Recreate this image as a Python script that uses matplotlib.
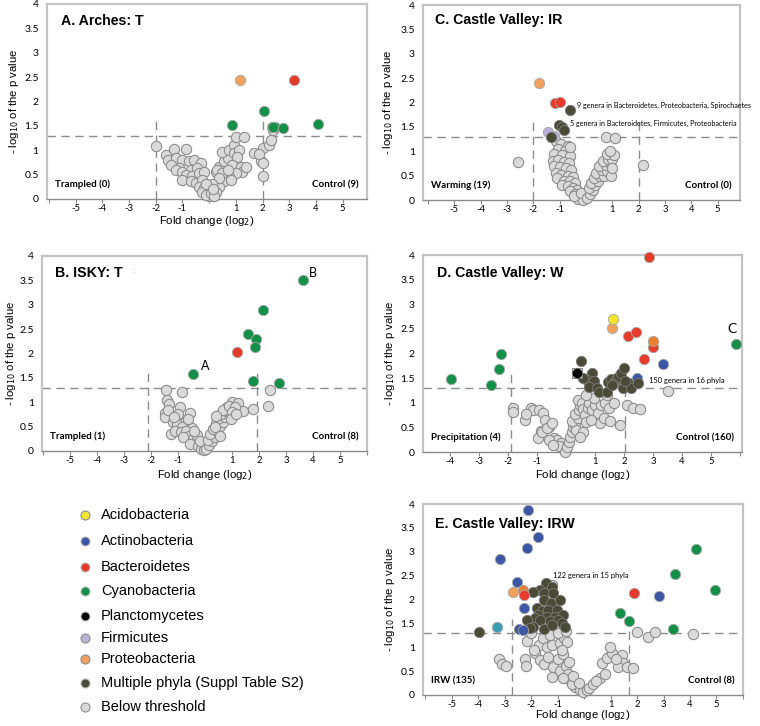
"""Volcano plots of differentially abundant genera (panels A-E)."""
import matplotlib
matplotlib.use('Agg')
import matplotlib.pyplot as plt
from matplotlib.lines import Line2D

plt.rcParams['font.family'] = ['Liberation Sans', 'DejaVu Sans']

COLORS = {
    'Acidobacteria': '#f2e52c',
    'Actinobacteria': '#3b57a6',
    'Bacteroidetes': '#e63a2a',
    'Cyanobacteria': '#139048',
    'Planctomycetes': '#000000',
    'Firmicutes': '#b9b2d6',
    'Proteobacteria': '#f3a05d',
    'Proteobacteria2': '#e8802f',
    'Multiple': '#4b4a36',
    'Teal': '#3a9db2',
    'Below': '#dadada',
}
LEGEND_NAMES = ['Acidobacteria', 'Actinobacteria', 'Bacteroidetes', 'Cyanobacteria',
                'Planctomycetes', 'Firmicutes', 'Proteobacteria',
                'Multiple phyla (Suppl Table S2)', 'Below threshold']
LEGEND_KEYS = ['Acidobacteria', 'Actinobacteria', 'Bacteroidetes', 'Cyanobacteria',
               'Planctomycetes', 'Firmicutes', 'Proteobacteria', 'Multiple', 'Below']

# ---------------- Panel A: Arches T ----------------
A_grey = [(-2.0, 1.08), (-1.6, 0.9), (-1.31, 1.02), (-0.875, 1.02), (-1.53, 0.8), (-1.25, 0.84),
          (-1.0, 0.8), (-1.44, 0.7), (-1.13, 0.63), (-0.75, 0.77), (-0.56, 0.8), (-0.31, 0.73),
          (-1.25, 0.6), (-1.0, 0.56), (-0.69, 0.6), (-0.44, 0.63), (-0.875, 0.49), (-0.625, 0.46),
          (-0.375, 0.53), (-0.19, 0.56), (-1.0, 0.39), (-0.69, 0.36), (-0.5, 0.32), (-0.25, 0.39),
          (-0.375, 0.25), (-0.19, 0.22), (-0.06, 0.15), (0.0, 0.05), (-0.25, 0.15), (-0.125, 0.08),
          (0.06, 0.12), (0.25, 0.56), (0.375, 0.66), (0.56, 0.77), (0.69, 0.84), (0.5, 0.97),
          (0.75, 1.0), (0.94, 1.11), (1.0, 1.28), (1.31, 1.27), (0.94, 0.94), (1.125, 1.0),
          (1.06, 0.87), (0.875, 0.7), (1.19, 0.66), (1.25, 0.56), (1.0, 0.53), (0.75, 0.46),
          (0.56, 0.36), (0.375, 0.25), (0.25, 0.15), (0.19, 0.05), (0.31, 0.6), (0.5, 0.53),
          (0.69, 0.6), (0.81, 0.39), (1.375, 0.66), (0.375, 0.42), (1.69, 0.94), (2.0, 1.04),
          (2.25, 1.11), (2.31, 1.21), (2.375, 1.42), (1.94, 0.77), (2.0, 0.46), (1.875, 0.93),
          (2.0, 0.73), (0.1, 0.3), (-0.1, 0.3), (0.15, 0.2)]
A_col = {
    'Proteobacteria': [(1.15, 2.44)],
    'Bacteroidetes': [(3.19, 2.44)],
    'Cyanobacteria': [(0.85, 1.51), (2.06, 1.8), (2.35, 1.48), (2.45, 1.48), (2.75, 1.45),
                      (4.06, 1.53), (2.4, 1.47)],
}

# ---------------- Panel C: Castle Valley IR ----------------
C_grey = [(-1.15, 1.22), (-0.95, 1.15), (-0.7, 1.1), (-1.05, 1.05), (-0.8, 1.0), (-1.2, 0.95),
          (-0.9, 0.92), (-0.6, 0.9), (-1.25, 0.8), (-1.05, 0.82), (-0.85, 0.78), (-0.65, 0.75),
          (-1.2, 0.7), (-1.0, 0.68), (-0.75, 0.65), (-0.55, 0.62), (-1.15, 0.55), (-0.95, 0.52),
          (-0.7, 0.5), (-0.5, 0.48), (-1.1, 0.45), (-0.85, 0.4), (-0.6, 0.38), (-0.4, 0.35),
          (-0.9, 0.3), (-0.7, 0.28), (-0.5, 0.25), (-0.35, 0.2), (-0.6, 0.18), (-0.4, 0.12),
          (-0.25, 0.1), (-0.15, 0.05), (-0.3, 0.03), (-0.1, 0.0), (-0.45, 0.08), (-0.2, 0.15),
          (0.05, 0.05), (0.15, 0.12), (0.25, 0.2), (0.1, 0.25), (0.35, 0.3), (0.2, 0.35),
          (0.45, 0.4), (0.3, 0.45), (0.55, 0.5), (0.4, 0.55), (0.7, 0.5), (0.6, 0.62), (0.8, 0.6),
          (0.5, 0.7), (0.75, 0.72), (0.9, 0.75), (0.65, 0.8), (0.85, 0.85), (1.0, 0.85),
          (0.8, 0.95), (1.05, 0.92), (0.9, 1.0), (0.78, 1.3), (1.1, 1.27), (2.18, 0.71),
          (-2.57, 0.77), (0.95, 0.5), (1.0, 0.65), (-0.6, 1.08)]
C_col = {
    'Proteobacteria': [(-1.77, 2.41)],
    'Bacteroidetes': [(-1.18, 2.0), (-0.99, 2.02)],
    'Firmicutes': [(-1.43, 1.39), (-1.22, 1.32)],
    'Multiple': [(-0.61, 1.85), (-1.03, 1.53), (-0.92, 1.49), (-0.84, 1.44), (-1.33, 1.3)],
}

# ---------------- Panel B: ISKY T ----------------
B_grey = [(-1.44, 1.25), (-0.86, 1.21), (-1.42, 1.04), (-1.33, 0.97), (-0.93, 0.91), (-1.48, 0.77),
          (-1.5, 0.7), (-1.37, 0.85), (-0.56, 0.78), (-1.28, 0.34), (-0.94, 0.66), (-0.75, 0.59),
          (-0.5, 0.48), (-1.2, 0.6), (-1.05, 0.55), (-0.85, 0.5), (-1.1, 0.42), (-0.9, 0.38),
          (-0.7, 0.4), (-0.6, 0.3), (-0.8, 0.28), (-0.45, 0.25), (-0.35, 0.18), (-0.55, 0.15),
          (-0.25, 0.1), (-0.15, 0.05), (-0.05, 0.02), (-0.3, 0.32), (-0.4, 0.4), (-1.0, 0.75),
          (-1.15, 0.7), (-0.65, 0.65), (-0.2, 0.2), (0.05, 0.05), (0.15, 0.12), (0.25, 0.2),
          (0.1, 0.22), (0.35, 0.28), (0.2, 0.35), (0.45, 0.4), (0.3, 0.45), (0.55, 0.52),
          (0.4, 0.58), (0.65, 0.6), (0.5, 0.68), (0.75, 0.7), (0.6, 0.75), (0.85, 0.8), (0.7, 0.85),
          (0.99, 1.01), (1.23, 0.98), (0.8, 0.91), (0.68, 0.84), (1.41, 0.83), (1.78, 0.86),
          (2.33, 0.92), (2.42, 1.26), (0.9, 0.92), (1.1, 0.9), (1.0, 0.8), (0.95, 0.65),
          (1.15, 0.75), (0.4, 0.72), (0.35, 0.5), (0.55, 0.3)]
B_col = {
    'Bacteroidetes': [(1.17, 2.03)],
    'Cyanobacteria': [(-0.46, 1.58), (3.64, 3.5), (2.14, 2.89), (1.6, 2.41), (1.89, 2.29),
                      (1.84, 2.13), (1.79, 1.44), (2.75, 1.39)],
}

# ---------------- Panel D: Castle Valley W ----------------
D_grey = [(-1.84, 0.89), (-1.84, 0.82), (-1.41, 0.65), (-1.2, 0.89), (-1.13, 0.85), (-0.92, 0.86),
          (-1.39, 0.78), (-0.78, 0.8), (-0.71, 0.66), (-0.57, 0.5), (-0.86, 0.42), (-0.98, 0.29),
          (-0.84, 0.41), (-0.67, 0.48), (-0.49, 0.58), (-0.4, 0.28), (-0.32, 0.24), (-0.17, 0.19),
          (0.0, 0.04), (-0.6, 0.25), (-0.1, 0.1), (-0.25, 0.12), (-0.45, 0.15), (-0.05, 0.0),
          (0.05, 0.1), (0.1, 0.2), (0.15, 0.3), (0.2, 0.4), (0.25, 0.5), (0.3, 0.55), (0.35, 0.45),
          (0.22, 0.62), (0.4, 0.7), (0.32, 0.78), (0.45, 0.85), (0.5, 0.95), (0.42, 1.05),
          (0.55, 1.0), (0.6, 0.88), (0.65, 0.75), (0.7, 0.6), (0.75, 0.9), (0.8, 1.0), (0.9, 0.85),
          (1.0, 0.95), (1.1, 0.8), (1.17, 0.58), (1.3, 0.7), (1.2, 0.95), (1.35, 1.0), (1.52, 0.62),
          (1.5, 0.9), (1.65, 1.0), (1.86, 0.55), (2.09, 0.96), (2.32, 0.89), (2.55, 0.87),
          (3.53, 1.23), (0.6, 0.4), (0.5, 0.3), (0.85, 0.65), (0.95, 1.1), (1.4, 1.15), (0.7, 1.15)]
D_col = {
    'Cyanobacteria': [(-2.25, 2.0), (-2.3, 1.69), (-2.57, 1.36), (-3.98, 1.49), (5.86, 2.2)],
    'Multiple': [(0.51, 1.84), (0.89, 1.6), (0.72, 1.47), (0.95, 1.44), (0.78, 1.33), (1.06, 1.29),
                 (1.15, 1.22), (1.4, 1.22), (1.46, 1.43), (1.57, 1.48), (1.69, 1.45), (1.8, 1.52),
                 (1.89, 1.61), (2.0, 1.7), (1.62, 1.39), (1.97, 1.29), (2.17, 1.41), (2.23, 1.29),
                 (2.05, 1.45), (1.58, 1.36), (0.6, 1.5)],
    'Actinobacteria': [(2.44, 1.5), (3.33, 1.79)],
    'Multiple_top': [(2.5, 1.41)],
    'Bacteroidetes': [(2.87, 3.97), (2.15, 2.36), (2.4, 2.43), (2.99, 2.13), (2.69, 1.89)],
    'Proteobacteria': [(1.6, 2.52)],
    'Proteobacteria2': [(2.99, 2.26)],
    'Acidobacteria': [(1.63, 2.71)],
}
D_plancto = [(0.38, 1.61)]

# ---------------- Panel E: Castle Valley IRW ----------------
E_grey = [(-3.21, 0.75), (-3.11, 0.65), (-2.94, 0.61), (-2.16, 1.14), (-2.23, 0.75), (-2.2, 0.6),
          (-1.85, 0.87), (-1.7, 1.05), (-1.55, 1.2), (-1.41, 1.01), (-1.22, 1.05), (-0.91, 1.08),
          (-0.75, 1.2), (-0.65, 1.1), (-1.66, 0.73), (-1.5, 0.65), (-1.35, 0.8), (-1.16, 0.59),
          (-1.0, 0.75), (-0.8, 0.85), (-0.91, 0.51), (-1.22, 0.38), (-0.7, 0.6), (-0.6, 0.45),
          (-0.53, 0.31), (-0.8, 0.35), (-0.34, 0.17), (-0.45, 0.22), (-0.15, 0.1), (-0.03, 0.07),
          (0.1, 0.1), (0.2, 0.15), (0.35, 0.24), (0.6, 0.35), (0.79, 0.45), (0.67, 0.66),
          (0.86, 0.77), (1.04, 0.87), (0.98, 1.01), (1.42, 0.84), (1.48, 0.66), (1.3, 0.59),
          (1.61, 0.59), (1.86, 0.56), (1.99, 1.33), (2.43, 1.22), (2.68, 1.33), (4.12, 1.28),
          (-1.9, 0.95), (-2.0, 1.3), (-1.3, 1.25), (-1.0, 1.3), (-0.85, 0.95), (-0.55, 0.7),
          (-0.7, 1.35), (-1.2, 2.3), (-0.4, 0.4), (-0.2, 0.25), (0.45, 0.3), (1.2, 0.75)]
E_col = {
    'Multiple': [(-3.95, 1.32), (-1.43, 2.35), (-1.22, 2.27), (-1.66, 2.21), (-1.91, 2.16),
                 (-1.51, 2.13), (-1.18, 2.14), (-1.51, 1.99), (-1.26, 1.92), (-0.91, 1.98),
                 (-1.79, 1.82), (-1.6, 1.75), (-1.35, 1.78), (-1.03, 1.79), (-1.72, 1.68),
                 (-1.85, 1.61), (-1.41, 1.64), (-1.09, 1.64), (-0.78, 1.68), (-2.14, 1.57),
                 (-1.66, 1.57), (-1.28, 1.56), (-0.97, 1.58), (-0.84, 1.5), (-0.72, 1.42),
                 (-1.53, 1.38), (-1.91, 1.42), (-1.22, 1.47), (-2.05, 1.4)],
    'Teal': [(-3.3, 1.43)],
    'Actinobacteria': [(-2.1, 3.87), (-1.72, 3.3), (-2.16, 3.07), (-3.17, 2.84), (-2.54, 2.36),
                       (-2.25, 1.83), (-2.44, 1.39), (-2.29, 1.36), (2.84, 2.08)],
    'Proteobacteria': [(-2.67, 2.15)],
    'Proteobacteria2': [(-2.31, 2.2)],
    'Bacteroidetes': [(-2.25, 2.09), (1.89, 2.13)],
    'Cyanobacteria': [(1.36, 1.72), (1.71, 1.54), (4.24, 3.05), (3.43, 2.53), (4.96, 2.2),
                      (3.35, 1.38)],
}

PANELS = [
    # key, rect, xlim, title, title pos, left label, right label, vlines, grey, coloured,
    # x-label y (axes fraction, None = hidden), y-label x (axes fraction)
    ('A', [0.0618, 0.726, 0.421, 0.2686], (-6.07, 5.91), 'A. Arches: T', (0.044, 0.912),
     'Trampled (0)', 'Control (9)', (-2.0, 2.0), A_grey, A_col, -0.112, -0.103),
    ('C', [0.5566, 0.7245, 0.417, 0.2686], (-6.19, 5.85), 'C. Castle Valley: IR', (0.038, 0.925),
     'Warming (19)', 'Control (0)', (-2.0, 2.0), C_grey, C_col, None, -0.110),
    ('B', [0.0553, 0.3788, 0.4276, 0.2686], (-6.04, 6.0), 'B. ISKY: T', (0.04, 0.915),
     'Trampled (1)', 'Control (8)', (-2.12, 1.94), B_grey, B_col, -0.123, -0.095),
    ('D', [0.5566, 0.3774, 0.4197, 0.2713], (-4.93, 6.07), 'D. Castle Valley: W', (0.044, 0.907),
     'Precipitation (4)', 'Control (160)', (-1.91, 2.03), D_grey, D_col, -0.117, -0.103),
    ('E', [0.5566, 0.0427, 0.421, 0.263], (-6.08, 6.0), 'E. Castle Valley: IRW', (0.038, 0.897),
     'IRW (135)', 'Control (8)', (-2.72, 1.68), E_grey, E_col, -0.106, -0.103),
]

fig = plt.figure(figsize=(7.6, 7.26), dpi=100)
axes = {}
for key, rect, xlim, title, tpos, ltxt, rtxt, vl, grey, col, xl_y, yl_x in PANELS:
    ax = fig.add_axes(rect)
    axes[key] = ax
    ax.set_xlim(*xlim)
    ax.set_ylim(0, 4)
    for s in ['top', 'left', 'right']:
        ax.spines[s].set_color('#c4c4c4')
        ax.spines[s].set_linewidth(1.6)
    ax.spines['bottom'].set_color('#8a8a8a')
    ax.spines['bottom'].set_linewidth(1.0)
    ax.set_yticks([0, 0.5, 1, 1.5, 2, 2.5, 3, 3.5, 4])
    ax.set_yticklabels(['0', '0.5', '1', '1.5', '2', '2.5', '3', '3.5', '4'],
                       family='Lato', fontsize=7.5)
    ax.tick_params(axis='y', length=0, pad=6)
    ticks = [t for t in range(-6, 7) if xlim[0] - 0.01 <= t <= xlim[1] + 0.01]
    ax.set_xticks(ticks)
    ax.set_xticklabels([str(t) if t != 0 and abs(t) <= 5 else '' for t in ticks],
                       family='Lato', fontsize=6.8)
    ax.tick_params(axis='x', length=3, color='#8a8a8a', pad=0.5)
    ax.set_ylabel('- log$_{10}$ of the p value', fontsize=8.2)
    ax.yaxis.set_label_coords(yl_x, 0.5)
    ax.yaxis.label.set_va('center')
    if xl_y is not None:
        ax.set_xlabel('Fold change (log$_2$)', fontsize=8.2)
        ax.xaxis.set_label_coords(0.5, xl_y)
        ax.xaxis.label.set_va('center')

    ax.axhline(1.3, color='#8c8c8c', lw=1.0, dashes=(6, 4), zorder=1)
    for xv in vl:
        ax.plot([xv, xv], [0, 1.6], color='#8c8c8c', lw=1.0, dashes=(6, 4), zorder=1)

    ax.scatter([p[0] for p in grey], [p[1] for p in grey], s=55, c=COLORS['Below'],
               edgecolors='#8e8e8e', linewidths=0.8, zorder=3, clip_on=False)
    for name, pts in col.items():
        cname = 'Multiple' if name == 'Multiple_top' else name
        edge = '#7a7a7a' if cname == 'Multiple' else '#a5a5a5'
        ax.scatter([p[0] for p in pts], [p[1] for p in pts], s=55, c=COLORS[cname],
                   edgecolors=edge, linewidths=0.6, zorder=4 if name != 'Multiple_top' else 6,
                   clip_on=False)

    ax.text(tpos[0], tpos[1], title, transform=ax.transAxes, fontsize=10.2,
            fontweight='bold', va='center', ha='left')
    ax.text(0.025, 0.05, ltxt, transform=ax.transAxes, fontsize=7, fontweight='bold',
            family='Lato', va='bottom', ha='left')
    ax.text(0.975, 0.05, rtxt, transform=ax.transAxes, fontsize=7, fontweight='bold',
            family='Lato', va='bottom', ha='right')

# planctomycetes point in D sits on a small grey square
axes['D'].scatter([p[0] for p in D_plancto], [p[1] for p in D_plancto], s=62, marker='s',
                  c='#c8c8c8', edgecolors='#7a7a7a', linewidths=0.6, zorder=4.5)
axes['D'].scatter([p[0] for p in D_plancto], [p[1] for p in D_plancto], s=36,
                  c=COLORS['Planctomycetes'], zorder=5)

# annotations
axes['C'].text(-0.34, 1.93, '9 genera in Bacteroidetes, Proteobacteria, Spirochaetes',
               fontsize=5.1, family='Lato', va='center', ha='left', zorder=7)
axes['C'].text(-0.61, 1.56, '5 genera in Bacteroidetes, Firmicutes, Proteobacteria',
               fontsize=5.1, family='Lato', va='center', ha='left', zorder=7)
axes['B'].text(0.0, 1.75, 'A', fontsize=9, family='Lato', ha='center', va='center')
axes['B'].text(3.99, 3.66, 'B', fontsize=9, family='Lato', ha='center', va='center')
axes['B'].text(0.28, 0.92, ':', transform=axes['B'].transAxes, fontsize=6, color='#aaaaaa',
               ha='center', va='center')
axes['D'].text(2.86, 1.46, '150 genera in 16 phyla', fontsize=5.4, family='Lato',
               va='center', ha='left', zorder=7)
axes['D'].text(5.71, 2.49, 'C', fontsize=10, family='Lato', ha='center', va='center')
axes['E'].text(-1.16, 2.51, '122 genera in 15 phyla', fontsize=5.4, family='Lato',
               va='center', ha='left', zorder=7)

# legend drawn as free-standing markers + labels
legend_y = [515, 541, 567, 591, 616, 638, 659, 683, 707]
for key, label, py in zip(LEGEND_KEYS, LEGEND_NAMES, legend_y):
    yf = 1 - py / 726
    edge = '#8e8e8e' if key in ('Below', 'Firmicutes', 'Acidobacteria', 'Proteobacteria') else '#bbbbbb'
    fig.add_artist(Line2D([85 / 760], [yf], marker='o', markersize=6.5, color='none',
                          markerfacecolor=COLORS[key], markeredgecolor=edge,
                          markeredgewidth=0.8, transform=fig.transFigure))
    fig.text(101 / 760, yf, label, fontsize=10.5, va='center', ha='left')

fig.savefig('out.png', dpi=100)
